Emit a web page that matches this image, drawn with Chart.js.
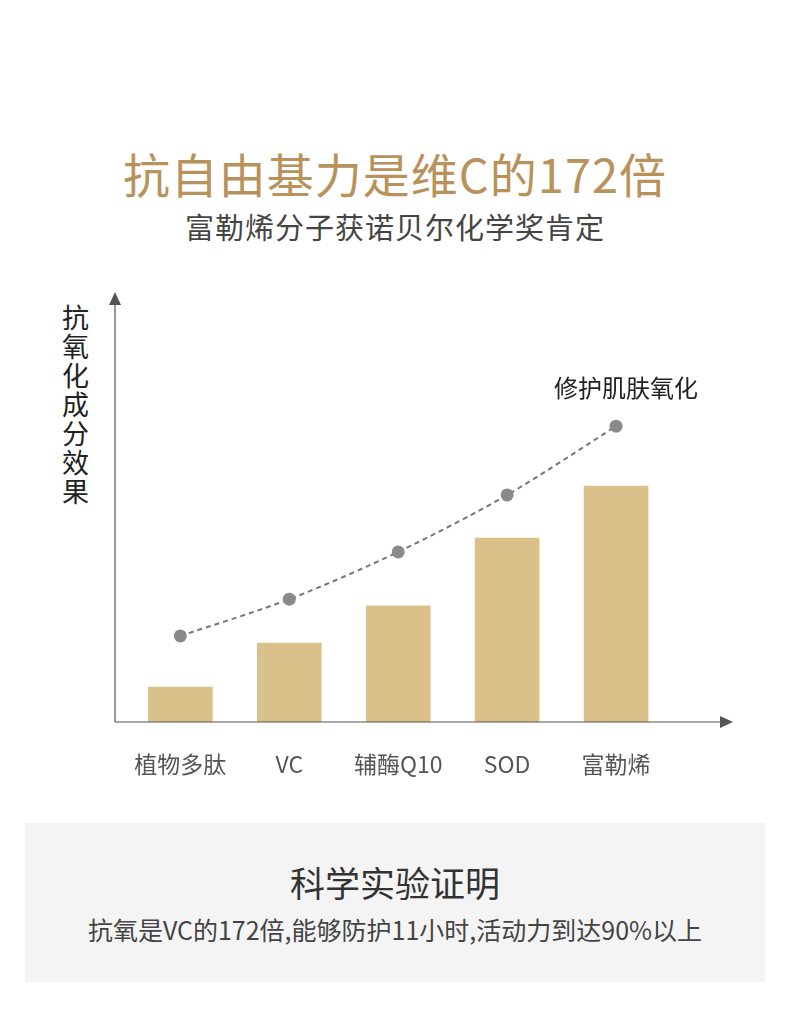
<!DOCTYPE html>
<html><head><meta charset="utf-8">
<script src="https://cdn.jsdelivr.net/npm/chart.js@4"></script>
<style>
body{margin:0;width:790px;height:1016px;background:#fff;font-family:"Noto Sans CJK SC","Noto Sans",sans-serif;position:relative;overflow:hidden}
.t{position:absolute;left:0;width:790px;text-align:center;white-space:nowrap}
#wrap{position:absolute;left:0;top:280px;width:790px;height:520px}
#box{position:absolute;left:25px;top:823px;width:740px;height:159px;background:#f4f4f4}
</style></head><body>
<div class="t" style="top:138px;font-size:47px;color:#b8925a;letter-spacing:1px">抗自由基力是维C的172倍</div>
<div class="t" style="top:205px;font-size:29px;color:#444;letter-spacing:1px">富勒烯分子获诺贝尔化学奖肯定</div>
<div style="position:absolute;left:62px;top:302px;width:32px;font-size:27px;line-height:29px;color:#222">抗氧化成分效果</div>
<div id="wrap"><canvas id="c"></canvas></div>
<div id="box"></div>
<div class="t" style="top:856px;font-size:35px;color:#333">科学实验证明</div>
<div class="t" style="top:911px;font-size:25px;color:#444">抗氧是VC的172倍,能够防护11小时,活动力到达90%以上</div>
<script>
// 数据
const categories = ['植物多肽', 'VC', '辅酶Q10', 'SOD', '富勒烯'];
const positions = [0.6, 1.6, 2.6, 3.6, 4.6];
const barValues = [8.3, 18.7, 27.5, 43.6, 55.9];
const lineValues = [20.4, 29.1, 40.3, 53.8, 70.1];
const lineLabel = '修护肌肤氧化';

const axesPlugin = {
  id: 'axes',
  afterDraw(chart) {
    const {ctx, chartArea: a, scales: {x}} = chart;
    ctx.save();
    ctx.strokeStyle = '#555'; ctx.fillStyle = '#555'; ctx.lineWidth = 1.2;
    ctx.beginPath(); ctx.moveTo(a.left, a.bottom); ctx.lineTo(a.left, a.top); ctx.moveTo(a.left, a.bottom); ctx.lineTo(a.right, a.bottom); ctx.stroke();
    ctx.beginPath(); ctx.moveTo(a.left, a.top - 8); ctx.lineTo(a.left - 6, a.top + 5); ctx.lineTo(a.left + 6, a.top + 5); ctx.fill();
    ctx.beginPath(); ctx.moveTo(a.right + 8, a.bottom); ctx.lineTo(a.right - 5, a.bottom - 6); ctx.lineTo(a.right - 5, a.bottom + 6); ctx.fill();
    ctx.fillStyle = '#555'; ctx.font = '23px "Noto Sans CJK SC"'; ctx.textAlign = 'center'; ctx.textBaseline = 'middle';
    categories.forEach((c, i) => ctx.fillText(c, x.getPixelForValue(positions[i]), a.bottom + 42));
    const m = chart.getDatasetMeta(1).data[4];
    ctx.fillStyle = '#222'; ctx.font = '24px "Noto Sans CJK SC"';
    ctx.fillText(lineLabel, m.x + 10, m.y - 38);
    ctx.restore();
  }
};

new Chart(document.getElementById('c'), {
  type: 'bar',
  data: {
    datasets: [
      { type: 'bar', data: positions.map((p, i) => ({x: p, y: barValues[i]})), backgroundColor: '#d9c189', barThickness: 64, order: 2 },
      { type: 'line', data: positions.map((p, i) => ({x: p, y: lineValues[i]})), borderColor: '#777', borderWidth: 2, borderDash: [5, 4],
        tension: 0.3, pointRadius: 6.5, pointBackgroundColor: '#8a8a8a', pointBorderWidth: 0, order: 1 }
    ]
  },
  options: {
    responsive: true, maintainAspectRatio: false, animation: false,
    layout: { padding: { left: 115, right: 65, top: 20, bottom: 78 } },
    plugins: { legend: { display: false }, tooltip: { enabled: false } },
    scales: {
      x: { type: 'linear', min: 0, max: 5.6, offset: false, display: false },
      y: { min: 0, max: 100, display: false }
    }
  },
  plugins: [axesPlugin]
});
</script>
</body></html>
